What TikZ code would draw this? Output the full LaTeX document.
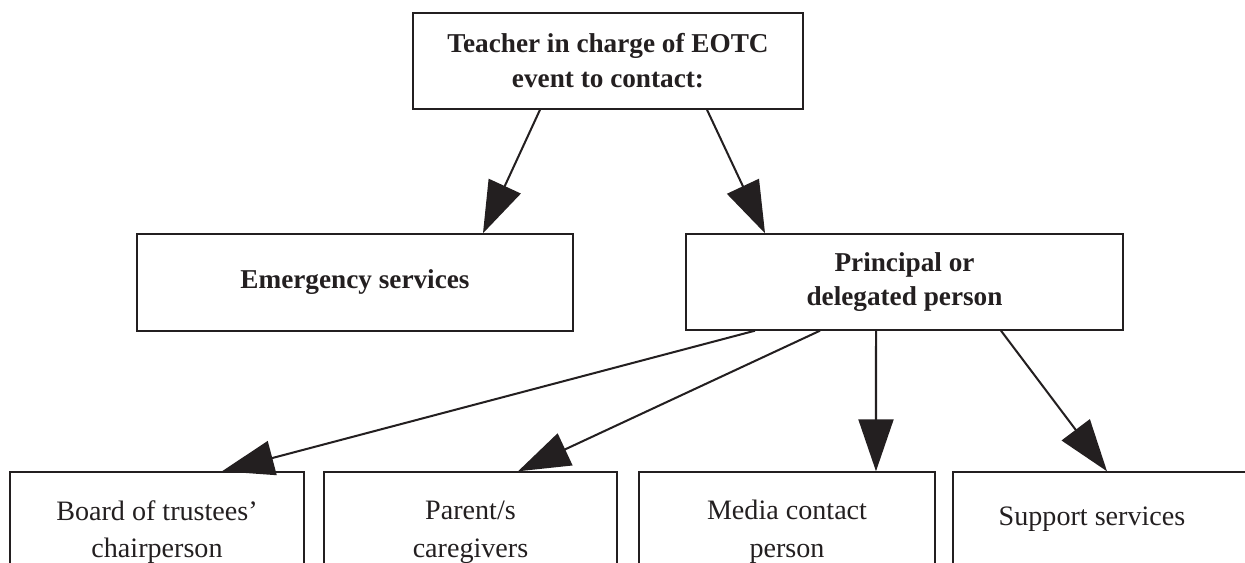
\documentclass[tikz,border=0pt]{standalone}
\usepackage{fontspec}
\setmainfont{Liberation Serif}
\usetikzlibrary{arrows.meta,positioning}
\definecolor{inkblack}{HTML}{231F20}

\begin{document}
\begin{tikzpicture}[
    x=0.02cm, y=-0.02cm,
    topbox/.style={rectangle, draw=inkblack, line width=0.8pt, align=center,
                   text=inkblack, font=\fontsize{15.5}{19.8}\selectfont\bfseries,
                   inner sep=0pt},
    lowbox/.style={rectangle, draw=inkblack, line width=0.8pt, align=center,
                   text=inkblack, font=\fontsize{16}{21.5}\selectfont,
                   inner sep=0pt},
    arr/.style={-{Triangle[length=1.04cm, width=0.7cm]}, inkblack, line width=1.15pt}
  ]

  % ---- Frame ----
  \useasboundingbox (0,0) rectangle (1245,563);
  \clip (0,0) rectangle (1245,563);

  % ---- Top: teacher ----
  \node[topbox, minimum width=7.8cm, minimum height=1.92cm] (teacher) at (608,61)
    {Teacher in charge of EOTC\\event to contact:};

  % ---- Middle row ----
  \node[topbox, minimum width=8.72cm, minimum height=1.94cm] (emerg) at (355,282.5)
    {Emergency services};
  \node[topbox, minimum width=8.74cm, minimum height=1.92cm] (princ) at (904.5,282)
    {Principal or\\delegated person};

  % ---- Bottom row ----
  \node[lowbox, minimum width=5.88cm, minimum height=2.4cm] (board) at (157,532)
    {Board of trustees'\\chairperson};
  \node[lowbox, minimum width=5.86cm, minimum height=2.4cm] (parent) at (470.5,532)
    {Parent/s\\caregivers};
  \node[lowbox, minimum width=5.92cm, minimum height=2.4cm] (media) at (787,532)
    {Media contact\\person};
  \node[lowbox, minimum width=6.2cm, minimum height=1.88cm] (support) at (1108,519)
    {Support services\hspace*{0.64cm}};

  % ---- Connectors ----
  \draw[arr] ([xshift=-1.36cm]teacher.south) -- ([xshift=2.56cm]emerg.north);
  \draw[arr] ([xshift=1.98cm]teacher.south) -- ([xshift=-2.79cm]princ.north);

  \draw[arr] ([xshift=-2.99cm]princ.south) -- ([xshift=1.3cm]board.north);
  \draw[arr] ([xshift=-1.69cm]princ.south) -- ([xshift=0.95cm]parent.north);
  \draw[arr] ([xshift=-0.57cm]princ.south) -- ([xshift=1.78cm]media.north);
  \draw[arr] ([xshift=1.93cm]princ.south) -- ([xshift=-0.02cm]support.north);

\end{tikzpicture}
\end{document}
